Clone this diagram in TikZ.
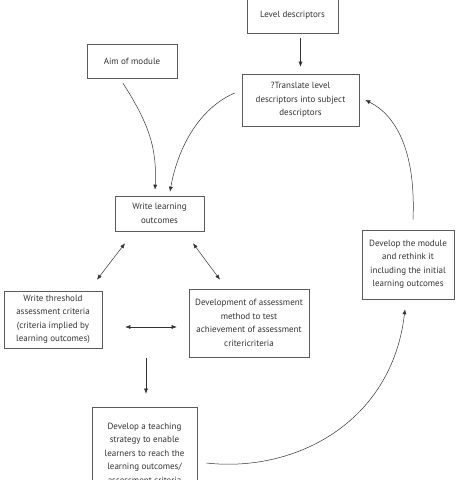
\documentclass[tikz,border=0pt]{standalone}
\usepackage{fontspec}
\setmainfont{PT Sans}
\usepackage{tikz}
\usetikzlibrary{arrows.meta, positioning, calc}
\definecolor{InkGrey}{RGB}{50, 50, 50}

\begin{document}
\begin{tikzpicture}[x=1pt, y=1pt,
    box/.style={draw=InkGrey!80, line width=0.6pt, align=center, text=InkGrey,
        font=\fontsize{9}{13.5}\selectfont, inner sep=3pt},
    arr/.style={draw=InkGrey, line width=0.5pt, -{Latex[length=5pt, width=4pt]}},
    dbl/.style={draw=InkGrey, line width=0.5pt, {Latex[length=5pt, width=4pt]}-{Latex[length=5pt, width=4pt]}}]
    \useasboundingbox (0,0) rectangle (461,480);
    \clip (0,0) rectangle (461,480);

    \node[box, minimum width=91, minimum height=35] (level) at (292.5,464.5) {Level descriptors};
    \node[box, minimum width=117, minimum height=52] (trans) at (300.5,380) {?Translate level\\descriptors into subject\\descriptors};
    \node[box, minimum width=90, minimum height=34] (aim) at (132,419) {Aim of module};
    \node[box, minimum width=89, minimum height=35] (write) at (159.5,266.5) {Write learning\\outcomes};
    \node[box, minimum width=98, minimum height=57] (thresh) at (53,160.5) {Write threshold\\assessment criteria\\(criteria implied by\\learning outcomes)};
    \node[box, minimum width=120, minimum height=68] (devel) at (249,157) {Development of assessment\\method to test\\achievement of assessment\\critericriteria};
    \node[box, minimum width=92, minimum height=69] (module) at (408,215.5) {Develop the module\\and rethink it\\including the initial\\learning outcomes};
    \node[box, minimum width=105, minimum height=92] (teach) at (144.5,27) {Develop a teaching\\strategy to enable\\learners to reach the\\learning outcomes/\\assessment criteria};
    \coordinate (split) at (146,122);

    \draw[arr, shorten <=5pt, shorten >=7pt] (level.south -| trans) -- (trans.north);
    \draw[arr] ([xshift=-9pt, yshift=-5pt]aim.south) .. controls +(27,-42) and +(2,40) .. ([xshift=-4.5pt, yshift=6pt]write.north);
    \draw[arr] ([xshift=-7pt, yshift=7pt]trans.west) .. controls +(-35,-15) and +(8,45) .. ([xshift=10.5pt, yshift=4pt]write.north);
    \draw[dbl] ([xshift=-34.5pt, yshift=-12pt]write.south) -- ([xshift=44pt, yshift=11pt]thresh.north);
    \draw[dbl] ([xshift=33.5pt, yshift=-12pt]write.south) -- ([xshift=-29pt, yshift=9pt]devel.north);
    \draw[dbl] ([xshift=23pt, yshift=-7.5pt]thresh.east) -- ([xshift=-12pt, yshift=-4pt]devel.west);
    \draw[arr, shorten >=13pt] (split) -- (split |- teach.north);
    \draw[arr] ([xshift=5pt, yshift=10pt]module.north) .. controls +(3,70) and +(30,-15) .. ([xshift=6pt]trans.east);
    \draw[arr] ([xshift=9pt, yshift=-10pt]teach.east) .. controls +(89,-10) and +(-13,-113) .. ([xshift=-3pt, yshift=-10pt]module.south);
\end{tikzpicture}
\end{document}
